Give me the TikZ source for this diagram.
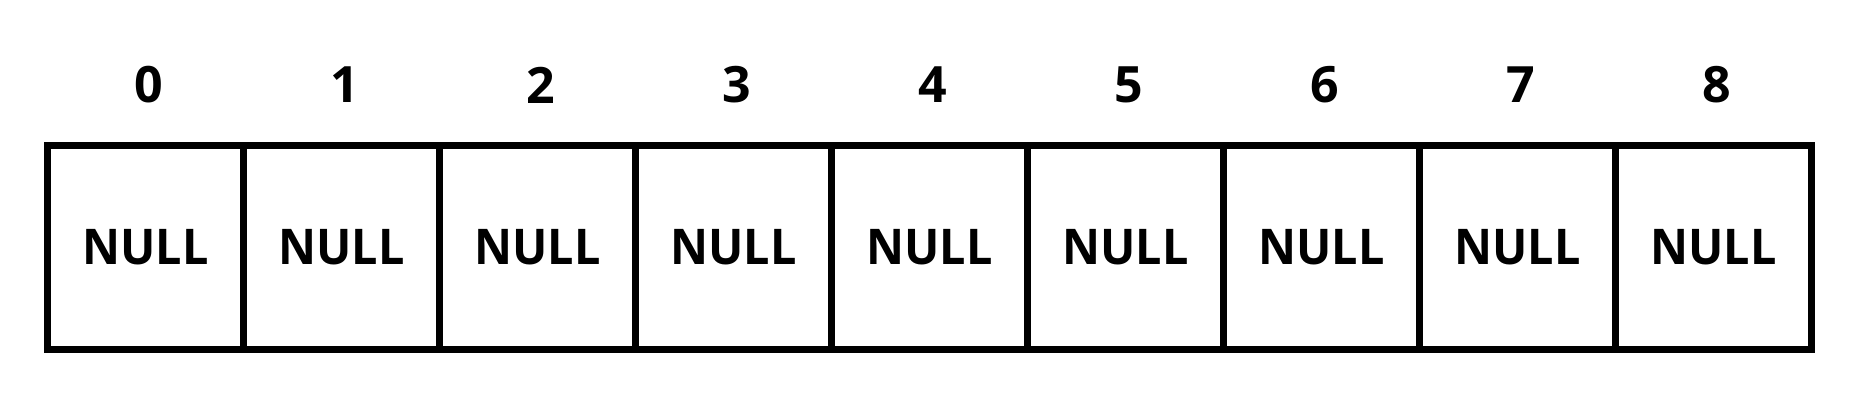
\documentclass[tikz,border=0pt]{standalone}
\usepackage{fontspec}
\setmainfont{Open Sans}
\newfontfamily\cellfont{Open Sans}[FakeStretch=0.95]
\tikzset{
  cell/.style = {draw, line width=0.14cm, minimum width=3.92cm,
                 minimum height=4.08cm, inner sep=0pt, outer sep=0pt,
                 font=\cellfont\fontsize{28}{30}\selectfont\bfseries},
  idx/.style = {inner sep=0pt, font=\fontsize{28.5}{30}\selectfont\bfseries}
}

\begin{document}
\begin{tikzpicture}
	\def \w{3.92}   % cell width
	\def \x{2.91}   % centre of cell 0
	\def \y{3.23}   % centre of cells
	\def \ly{6.48}  % index labels

	\useasboundingbox (0,0) rectangle (37.14,8.18);

	% Cells
	\foreach \i in {0,...,8}
		\node[cell] (cell\i) at (\x+\i*\w,\y) {NULL};

	% Indices
	\foreach \i in {0,...,8}
		\node[idx] (label\i) at (\x+\i*\w+0.06,\ly) {\i};
\end{tikzpicture}
\end{document}
